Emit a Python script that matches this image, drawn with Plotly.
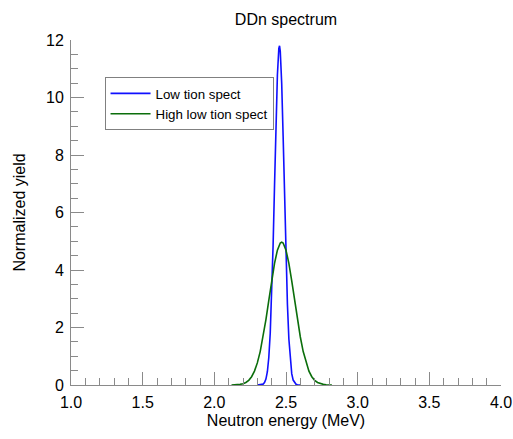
import plotly.graph_objects as go

# Low tion spectrum
low_x = [2.30, 2.31, 2.32, 2.33, 2.34, 2.35, 2.36, 2.37, 2.38, 2.39, 2.40, 2.41, 2.42,
         2.43, 2.44, 2.45, 2.455, 2.46, 2.47, 2.48, 2.49, 2.50, 2.51, 2.52, 2.53, 2.54,
         2.55, 2.56, 2.57, 2.58, 2.59, 2.60]
low_y = [0.0, 0.001, 0.003, 0.010, 0.030, 0.082, 0.204, 0.462, 0.956, 1.80, 3.09, 4.85, 6.94,
         9.06, 10.78, 11.71, 11.80, 11.61, 10.49, 8.65, 6.51, 4.47, 2.80, 1.60, 0.832, 0.395,
         0.172, 0.068, 0.024, 0.008, 0.002, 0.0]

# High low tion spectrum
high_x = [2.12, 2.14, 2.16, 2.18, 2.20, 2.22, 2.24, 2.26, 2.28, 2.30, 2.32, 2.34, 2.36, 2.38,
          2.40, 2.42, 2.44, 2.46, 2.47, 2.48, 2.50, 2.52, 2.54, 2.56, 2.58, 2.60, 2.62,
          2.64, 2.66, 2.68, 2.70, 2.72, 2.74, 2.76, 2.78, 2.80, 2.82]
high_y = [0.0, 0.004, 0.010, 0.022, 0.045, 0.088, 0.163, 0.288, 0.483, 0.769, 1.162, 1.670,
          2.276, 2.946, 3.62, 4.23, 4.69, 4.94, 4.97, 4.94, 4.69, 4.23, 3.62, 2.946, 2.276,
          1.670, 1.162, 0.769, 0.483, 0.288, 0.163, 0.088, 0.045, 0.022, 0.010, 0.004, 0.0]

series_names = ["Low tion spect", "High low tion spect"]
x_ticks = [1.0, 1.5, 2.0, 2.5, 3.0, 3.5, 4.0]
y_ticks = [0, 2, 4, 6, 8, 10, 12]

FONT = "Liberation Sans, Arial, Helvetica, sans-serif"
AX = "#8a8a8a"

fig = go.Figure()
fig.add_trace(go.Scatter(x=low_x, y=low_y, mode="lines", name=series_names[0],
                         line=dict(color="#1010ff", width=1.6)))
fig.add_trace(go.Scatter(x=high_x, y=high_y, mode="lines", name=series_names[1],
                         line=dict(color="#0b6e0b", width=1.6)))

fig.update_layout(
    width=513, height=439,
    margin=dict(l=71, r=12, t=40, b=54),
    paper_bgcolor="white", plot_bgcolor="white",
    font=dict(family=FONT, size=16, color="black"),
    title=dict(text="DDn spectrum", x=0.5575, xanchor="center", y=0.955, yanchor="middle",
               font=dict(family=FONT, size=16, color="black")),
    legend=dict(x=0.078, y=0.892, xanchor="left", yanchor="top",
                bordercolor="#808080", borderwidth=1, bgcolor="white",
                font=dict(family=FONT, size=13.3, color="black"),
                tracegroupgap=0, itemwidth=40),
    showlegend=True,
)

fig.update_xaxes(
    range=[1.0, 4.0], tickvals=x_ticks, ticktext=[f"{v:.1f}" for v in x_ticks],
    ticks="inside", ticklen=13, tickcolor=AX, tickwidth=1,
    showline=True, linecolor=AX, linewidth=1, mirror=False,
    showgrid=False, zeroline=False, ticklabelstandoff=3,
    minor=dict(dtick=0.1, tick0=1.0, ticks="inside", ticklen=7, tickcolor=AX, tickwidth=1, showgrid=False),
    tickfont=dict(family=FONT, size=16, color="black"),
    title=dict(text="Neutron energy (MeV)", standoff=4, font=dict(family=FONT, size=16, color="black")),
    automargin=False,
)
fig.update_yaxes(
    range=[0, 12], tickvals=y_ticks, ticktext=[str(v) for v in y_ticks],
    ticks="inside", ticklen=13, tickcolor=AX, tickwidth=1,
    showline=True, linecolor=AX, linewidth=1, mirror=False,
    showgrid=False, zeroline=False, ticklabelstandoff=3,
    minor=dict(dtick=0.5, tick0=0, ticks="inside", ticklen=7, tickcolor=AX, tickwidth=1, showgrid=False),
    tickfont=dict(family=FONT, size=16, color="black"),
    title=dict(text="Normalized yield", standoff=16, font=dict(family=FONT, size=16, color="black")),
    automargin=False,
)

fig.write_html("out.html", config={"displayModeBar": False},
               post_script="document.body.style.margin='0';")
